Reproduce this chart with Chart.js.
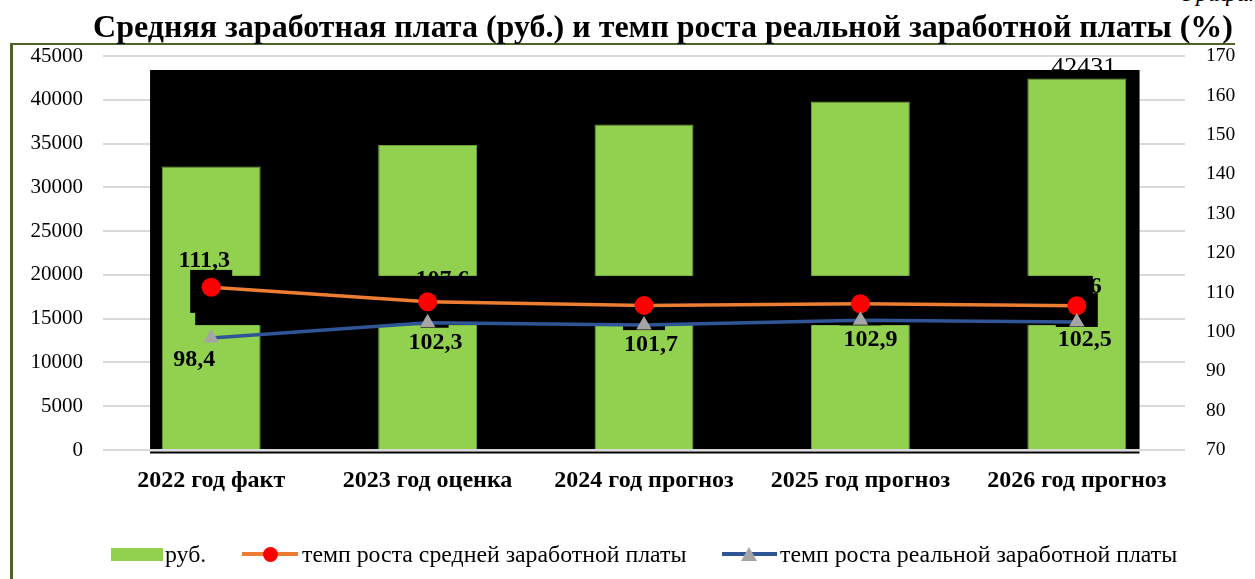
<!DOCTYPE html>
<html>
<head>
<meta charset="utf-8">
<script src="https://cdn.jsdelivr.net/npm/chart.js@4.4.0/dist/chart.umd.min.js"></script>
<style>
  html, body { margin: 0; padding: 0; background: #fff; }
  body { width: 1255px; height: 579px; overflow: hidden; position: relative; font-family: "Liberation Serif", "Times New Roman", serif; color: #000; }
  #frame { position: absolute; left: 10px; top: 43px; width: 1222px; height: 600px; border-top: 2px solid #4f6228; border-left: 3px solid #4f6228; }
  #title { position: absolute; left: 663px; top: 10px; transform: translateX(-50%); white-space: nowrap; font-weight: bold; font-size: 32px; line-height: 32px; }
  #corner { position: absolute; left: 1183px; top: -19px; font-style: italic; font-size: 24px; line-height: 24px; white-space: nowrap; }
  #chart { position: absolute; left: 0; top: 0; }
  .lg { position: absolute; font-size: 23.8px; line-height: 24px; top: 542px; white-space: nowrap; }
  .box { position: absolute; left: 111px; top: 548px; width: 52px; height: 13px; background: #92d050; }
  .ln { position: absolute; top: 552px; height: 4px; }
  .dot { position: absolute; width: 15px; height: 15px; border-radius: 50%; background: #ff0000; top: 547px; left: 263px; }
  .tri { position: absolute; width: 0; height: 0; border-left: 8px solid transparent; border-right: 8px solid transparent; border-bottom: 14px solid #a5a5a5; top: 547px; left: 741px; }
</style>
</head>
<body>
<div id="frame"></div>
<div id="corner">График</div>
<canvas id="chart" width="1255" height="579"></canvas>
<div id="title">Средняя заработная плата (руб.) и темп роста реальной заработной платы (%)</div>

<div class="box"></div>
<div class="lg" style="left:165px">руб.</div>
<div class="ln" style="left:242px;width:56px;background:#ed7d31"></div>
<div class="dot"></div>
<div class="lg" style="left:302px">темп роста средней заработной платы</div>
<div class="ln" style="left:722px;width:55px;background:#2f5597"></div>
<div class="tri"></div>
<div class="lg" style="left:780px">темп роста реальной заработной платы</div>

<script>
// ---- data ----
const categories = ['2022 год факт', '2023 год оценка', '2024 год прогноз', '2025 год прогноз', '2026 год прогноз'];
const salaryRub = [32371, 34831, 37165, 39804, 42431];
const nominalGrowth = [111.3, 107.6, 106.7, 107.1, 106.6];
const realGrowth = [98.4, 102.3, 101.7, 102.9, 102.5];
const leftTicks = [0, 5000, 10000, 15000, 20000, 25000, 30000, 35000, 40000, 45000];
const rightTicks = [70, 80, 90, 100, 110, 120, 130, 140, 150, 160, 170];
const seriesNames = ['руб.', 'темп роста средней заработной платы', 'темп роста реальной заработной платы'];

// ---- label placement (style, in pixels relative to each point) ----
const salaryLabelDx = 7;
const nominalLabelDx = [-7, 15, 0, 0, -2];
const nominalLabelDy = [-26, -22, -18, -18, -19];
const realLabelDx = [-17, 8, 7, 10, 8];
const realLabelDy = [22, 20, 20, 19, 18];

const fmt = v => String(v).replace('.', ',');

// black backdrop artifacts of the original document, placed via the chart scales
const backdrop = {
  id: 'backdrop',
  beforeDatasetsDraw(chart) {
    const { ctx, scales } = chart;
    const x = scales.x, yL = scales.y;
    const half = (x.getPixelForValue(1) - x.getPixelForValue(0)) / 2;
    const left = x.getPixelForValue(0) - half * 0.565;
    const right = x.getPixelForValue(categories.length - 1) + half * 0.58;
    const top = yL.getPixelForValue(43400);
    const bottom = yL.getPixelForValue(0);
    ctx.save();
    ctx.fillStyle = '#000';
    ctx.fillRect(left, top, right - left, bottom - 1 - top);
    ctx.fillRect(left, bottom + 1.5, right - left, 2);
    ctx.restore();
  },
  beforeDatasetDraw(chart, args) {
    if (args.index !== 1) return;
    const { ctx, scales } = chart;
    const x = scales.x, yR = scales.y1;
    const n = categories.length;
    const first = x.getPixelForValue(0), last = x.getPixelForValue(n - 1);
    ctx.save();
    ctx.fillStyle = '#000';
    const bt = yR.getPixelForValue(114.2), bb = yR.getPixelForValue(101.7);
    ctx.fillRect(first - 16, bt, last + 16 - (first - 16), bb - bt);
    const st = yR.getPixelForValue(115.7), sb = yR.getPixelForValue(104.8);
    ctx.fillRect(first - 21, st, 42, sb - st);
    realGrowth.forEach((v, i) => {
      if (i === 0) return;
      const px = x.getPixelForValue(i), py = yR.getPixelForValue(v);
      if (i === n - 1) {
        const t = yR.getPixelForValue(109.8);
        ctx.fillRect(px - 21, t, 42, py + 5 - t);
      } else {
        const l = i === 1 ? px - 7 : px - 21;
        ctx.fillRect(l, py, px + 21 - l, 5);
      }
    });
    ctx.restore();
  }
};

const labels = {
  id: 'valueLabels',
  afterDatasetsDraw(chart) {
    const { ctx, scales } = chart;
    const x = scales.x, yL = scales.y, yR = scales.y1;
    ctx.save();
    ctx.fillStyle = '#000';
    ctx.textAlign = 'center';
    ctx.textBaseline = 'alphabetic';
    ctx.font = '26px "Liberation Serif"';
    salaryRub.forEach((v, i) => ctx.fillText(String(v), x.getPixelForValue(i) + salaryLabelDx, yL.getPixelForValue(v) - 3));
    ctx.font = 'bold 24px "Liberation Serif"';
    ctx.textBaseline = 'middle';
    nominalGrowth.forEach((v, i) => ctx.fillText(fmt(v), x.getPixelForValue(i) + nominalLabelDx[i], yR.getPixelForValue(v) + nominalLabelDy[i]));
    realGrowth.forEach((v, i) => ctx.fillText(fmt(v), x.getPixelForValue(i) + realLabelDx[i], yR.getPixelForValue(v) + realLabelDy[i]));
    ctx.restore();
  }
};

new Chart(document.getElementById('chart'), {
  data: {
    labels: categories,
    datasets: [
      {
        type: 'bar', label: seriesNames[0], data: salaryRub, yAxisID: 'y', order: 3,
        backgroundColor: '#92d050', borderColor: '#6f9e3c', borderWidth: 1,
        barPercentage: 0.457, categoryPercentage: 1
      },
      {
        type: 'line', label: seriesNames[1], data: nominalGrowth, yAxisID: 'y1', order: 2,
        borderColor: '#ed7d31', borderWidth: 3.5, pointStyle: 'circle', pointRadius: 9.5,
        pointBackgroundColor: '#ff0000', pointBorderColor: '#ff0000', pointBorderWidth: 0, tension: 0
      },
      {
        type: 'line', label: seriesNames[2], data: realGrowth, yAxisID: 'y1', order: 1,
        borderColor: '#2f5597', borderWidth: 3.5, pointStyle: 'triangle', pointRadius: 9,
        pointBackgroundColor: '#a5a5a5', pointBorderColor: '#a5a5a5', pointBorderWidth: 0, tension: 0
      }
    ]
  },
  options: {
    responsive: false, maintainAspectRatio: false, animation: false,
    layout: { padding: { top: 56, left: 0, right: 0, bottom: 0 } },
    plugins: { legend: { display: false }, tooltip: { enabled: false }, title: { display: false } },
    scales: {
      x: {
        offset: true,
        grid: { display: false, drawTicks: false },
        border: { display: false },
        ticks: { color: '#000', padding: 16, maxRotation: 0, autoSkip: false, font: { family: 'Liberation Serif', size: 24, weight: 'bold' } },
        afterFit: s => { s.height = 129; }
      },
      y: {
        position: 'left',
        min: leftTicks[0], max: leftTicks[leftTicks.length - 1],
        afterBuildTicks: s => { s.ticks = leftTicks.map(v => ({ value: v })); },
        grid: { color: '#d9d9d9', lineWidth: 2, drawTicks: false },
        border: { display: false },
        ticks: { color: '#000', padding: 20, callback: v => String(v), font: { family: 'Liberation Serif', size: 21 } },
        afterFit: s => { s.width = 103; }
      },
      y1: {
        position: 'right',
        min: rightTicks[0], max: rightTicks[rightTicks.length - 1],
        afterBuildTicks: s => { s.ticks = rightTicks.map(v => ({ value: v })); },
        grid: { display: false, drawTicks: false },
        border: { display: false },
        ticks: { color: '#000', padding: 21, callback: v => String(v), font: { family: 'Liberation Serif', size: 19.5 } },
        afterFit: s => { s.width = 70; }
      }
    }
  },
  plugins: [backdrop, labels]
});
</script>
</body>
</html>
